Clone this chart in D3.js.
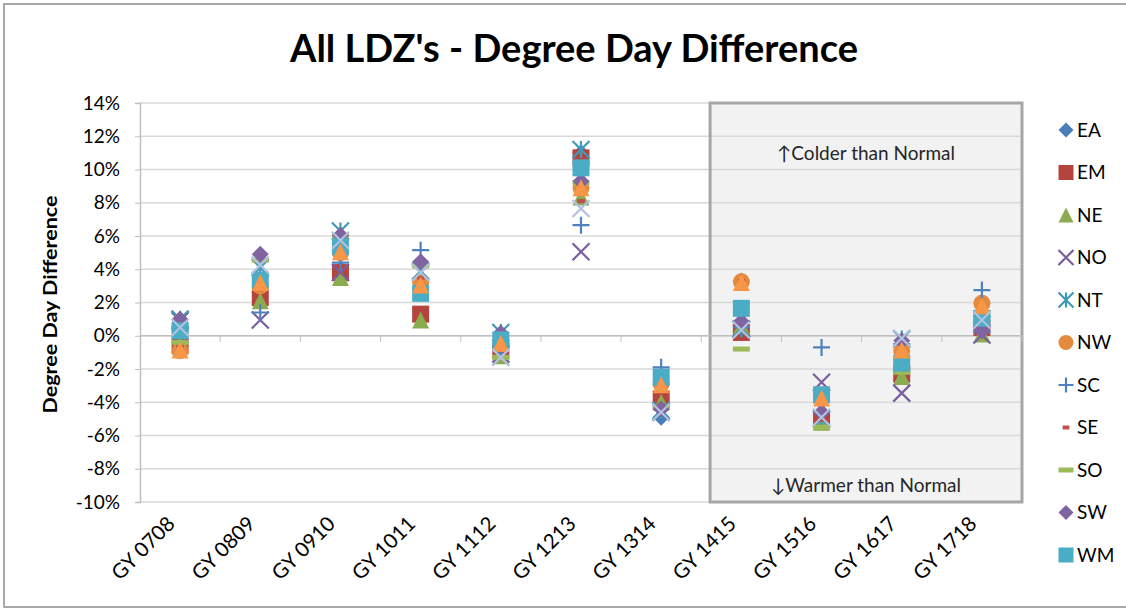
<!DOCTYPE html>
<html>
<head>
<meta charset="utf-8">
<script src="https://cdn.jsdelivr.net/npm/d3@7"></script>
<style>
  body { margin: 0; background: #fff; }
  text { font-family: Lato, "Open Sans", sans-serif; }
</style>
</head>
<body>
<svg id="chart" width="1126" height="609"></svg>
<script>
// gas years on the category axis
const categories = ["GY 0708", "GY 0809", "GY 0910", "GY 1011", "GY 1112", "GY 1213",
  "GY 1314", "GY 1415", "GY 1516", "GY 1617", "GY 1718"];

// degree day difference, %
const ea = [0.8, 2.6, 4.0, 3.3, -0.5, 11.0, -4.9, 3.3, -4.8, -1.9, 0.6];
const em = [-0.6, 2.3, 3.8, 1.3, -0.9, 10.7, -3.8, 0.2, -5.0, -2.3, 0.5];
const ne = [-0.5, 2.1, 3.5, 0.95, -1.2, 8.35, -4.0, 0.6, -5.2, -2.45, 0.1];
const no = [0.9, 0.95, 3.8, 3.8, -1.1, 5.05, -4.6, 0.4, -2.8, -3.45, 0.05];
const nt = [1.0, 4.1, 6.3, 3.9, 0.2, 11.2, -4.5, 0.4, -5.0, -0.2, 0.7];
const nw = [-0.9, 3.0, 5.0, 3.2, -0.5, 8.9, -2.9, 3.25, -3.8, -0.9, 1.95];
const sc = [0.3, 1.4, 4.4, 5.15, -0.7, 6.65, -1.9, 0.5, -0.7, -0.5, 2.75];
const se = [-0.6, 2.8, 6.1, 3.5, -0.8, 8.1, -4.2, 3.3, -5.05, -2.0, 0.6];
const so = [-0.4, 4.55, 6.0, 4.2, -1.3, 9.2, -4.3, -0.8, -5.5, -2.2, 1.4];
const sw = [1.0, 4.9, 6.05, 4.45, 0.15, 9.3, -4.4, 0.85, -4.6, -0.3, 0.3];
const wm = [0.3, 3.35, 5.35, 2.55, -0.25, 10.1, -2.5, 1.65, -3.55, -1.65, 1.05];
const wn = [-0.85, 3.2, 5.05, 3.05, -0.45, 8.9, -2.95, 3.2, -3.75, -0.85, 1.8];
const ws = [0.5, 4.25, 5.75, 3.8, -1.3, 7.65, -4.6, 0.35, -4.9, -0.15, 0.95];

const yTicks = [-10, -8, -6, -4, -2, 0, 2, 4, 6, 8, 10, 12, 14];

// the legend only has room for the first 11 series
const series = [
  { name: "EA", values: ea, shape: "diamond", color: "#4a7ebb" },
  { name: "EM", values: em, shape: "square", color: "#b5443f" },
  { name: "NE", values: ne, shape: "triangle", color: "#8aab4e" },
  { name: "NO", values: no, shape: "x", color: "#7b5e9e" },
  { name: "NT", values: nt, shape: "asterisk", color: "#3f9ab5" },
  { name: "NW", values: nw, shape: "circle", color: "#e48a3f" },
  { name: "SC", values: sc, shape: "plus", color: "#4f81bd" },
  { name: "SE", values: se, shape: "dash", color: "#c0504d" },
  { name: "SO", values: so, shape: "longdash", color: "#9bbb59" },
  { name: "SW", values: sw, shape: "diamond", color: "#8064a2" },
  { name: "WM", values: wm, shape: "square", color: "#4bacc6" },
  { name: "WN", values: wn, shape: "triangle", color: "#f79646" },
  { name: "WS", values: ws, shape: "x", color: "#b1c2df" }
];
const legendCount = 11;

const svg = d3.select("#chart");
const W = 1126, H = 609;
const plot = { left: 140, right: 1022, top: 103, bottom: 502 };

// chart frame
svg.append("rect")
  .attr("x", 4).attr("y", 4).attr("width", W + 10).attr("height", H - 6)
  .attr("fill", "#fff").attr("stroke", "#8c8c8c").attr("stroke-width", 1.5);

const x = d3.scaleBand().domain(categories).range([plot.left, plot.right]);
const y = d3.scaleLinear().domain([-10, 14]).range([plot.bottom, plot.top]);

// shaded forecast region (GY 1415 onwards)
const boxX0 = x("GY 1415") + x.step() * 0.11;
const boxX1 = plot.right;
svg.append("rect")
  .attr("x", boxX0).attr("y", y(14))
  .attr("width", boxX1 - boxX0).attr("height", y(-10) - y(14))
  .attr("fill", "#f2f2f2");

// gridlines
svg.append("g")
  .selectAll("line")
  .data(yTicks)
  .join("line")
  .attr("x1", plot.left).attr("x2", plot.right)
  .attr("y1", d => y(d)).attr("y2", d => y(d))
  .attr("stroke", "#d9d9d9").attr("stroke-width", 1.5);

svg.append("rect")
  .attr("x", boxX0).attr("y", y(14))
  .attr("width", boxX1 - boxX0).attr("height", y(-10) - y(14))
  .attr("fill", "none").attr("stroke", "#a6a6a6").attr("stroke-width", 3);

svg.append("text")
  .attr("x", (boxX0 + boxX1) / 2).attr("y", y(11) + 7)
  .attr("text-anchor", "middle").attr("font-size", 19).attr("fill", "#262626")
  .text("\u2191Colder than Normal");
svg.append("text")
  .attr("x", (boxX0 + boxX1) / 2).attr("y", y(-9) + 7)
  .attr("text-anchor", "middle").attr("font-size", 19).attr("fill", "#262626")
  .text("\u2193Warmer than Normal");

// y axis
const yAxis = svg.append("g")
  .attr("transform", `translate(${plot.left},0)`)
  .call(d3.axisLeft(y).tickValues(yTicks).tickFormat(d => d + "%").tickSize(5).tickPadding(15));
yAxis.select(".domain").attr("stroke", "#bfbfbf").attr("stroke-width", 1.5);
yAxis.selectAll(".tick line").attr("stroke", "#bfbfbf");
yAxis.selectAll(".tick text")
  .attr("font-family", "Lato, sans-serif").attr("font-size", 19).attr("fill", "#000");

// category axis crossing at 0
const xAxis = svg.append("g").attr("transform", `translate(0,${y(0)})`);
xAxis.append("line")
  .attr("x1", plot.left).attr("x2", plot.right)
  .attr("stroke", "#bfbfbf").attr("stroke-width", 1.5);
xAxis.selectAll("line.tk")
  .data(d3.range(1, categories.length + 1))
  .join("line").attr("class", "tk")
  .attr("x1", i => plot.left + i * x.step()).attr("x2", i => plot.left + i * x.step())
  .attr("y1", 0).attr("y2", 6)
  .attr("stroke", "#bfbfbf").attr("stroke-width", 1);

svg.append("g")
  .selectAll("text")
  .data(categories)
  .join("text")
  .attr("transform", d => `translate(${x(d) + x.bandwidth() / 2 - 9},${plot.bottom + 18}) rotate(-45)`)
  .attr("text-anchor", "end").attr("dy", "0.35em")
  .attr("font-size", 20.5).attr("fill", "#000")
  .text(d => d);

// axis title
svg.append("text")
  .attr("transform", `translate(57,${(plot.top + plot.bottom) / 2 + 2}) rotate(-90)`)
  .attr("text-anchor", "middle").attr("font-size", 18).attr("font-weight", "bold")
  .attr("textLength", 218).attr("lengthAdjust", "spacingAndGlyphs")
  .text("Degree Day Difference");

// chart title
svg.append("text")
  .attr("x", 574).attr("y", 62)
  .attr("text-anchor", "middle").attr("font-size", 38).attr("font-weight", "bold")
  .text("All LDZ's - Degree Day Difference");

// marker drawing
function marker(g, shape, color, s) {
  const r = s / 2;
  if (shape === "diamond") {
    g.append("path").attr("d", `M0,${-r}L${r},0L0,${r}L${-r},0Z`).attr("fill", color);
  } else if (shape === "square") {
    g.append("rect").attr("x", -r).attr("y", -r).attr("width", s).attr("height", s).attr("fill", color);
  } else if (shape === "triangle") {
    g.append("path").attr("d", `M0,${-r}L${r},${r}L${-r},${r}Z`).attr("fill", color);
  } else if (shape === "circle") {
    g.append("circle").attr("r", r).attr("fill", color);
  } else if (shape === "x" || shape === "asterisk") {
    let d = `M${-r},${-r}L${r},${r}M${-r},${r}L${r},${-r}`;
    if (shape === "asterisk") d += `M0,${-r}L0,${r}`;
    g.append("path").attr("d", d).attr("stroke", color).attr("stroke-width", 2.2).attr("fill", "none");
  } else if (shape === "plus") {
    g.append("path").attr("d", `M${-r},0L${r},0M0,${-r}L0,${r}`)
      .attr("stroke", color).attr("stroke-width", 2.2).attr("fill", "none");
  } else if (shape === "dash") {
    g.append("rect").attr("x", -r * 0.45).attr("y", -2).attr("width", r * 0.9).attr("height", 4).attr("fill", color);
  } else if (shape === "longdash") {
    g.append("rect").attr("x", -r).attr("y", -2.5).attr("width", s).attr("height", 5).attr("fill", color);
  }
}

const pts = svg.append("g");
series.forEach(s => {
  s.values.forEach((v, i) => {
    const g = pts.append("g")
      .attr("transform", `translate(${x(categories[i]) + x.bandwidth() / 2},${y(v)})`);
    marker(g, s.shape, s.color, 17);
  });
});

// legend
const legend = svg.append("g").attr("transform", "translate(1066,130)");
series.slice(0, legendCount).forEach((s, i) => {
  const row = legend.append("g").attr("transform", `translate(0,${i * 42.5})`);
  marker(row, s.shape, s.color, 15);
  row.append("text")
    .attr("x", 11).attr("dy", "0.35em")
    .attr("font-size", 19).attr("fill", "#000")
    .text(s.name);
});
</script>
</body>
</html>
